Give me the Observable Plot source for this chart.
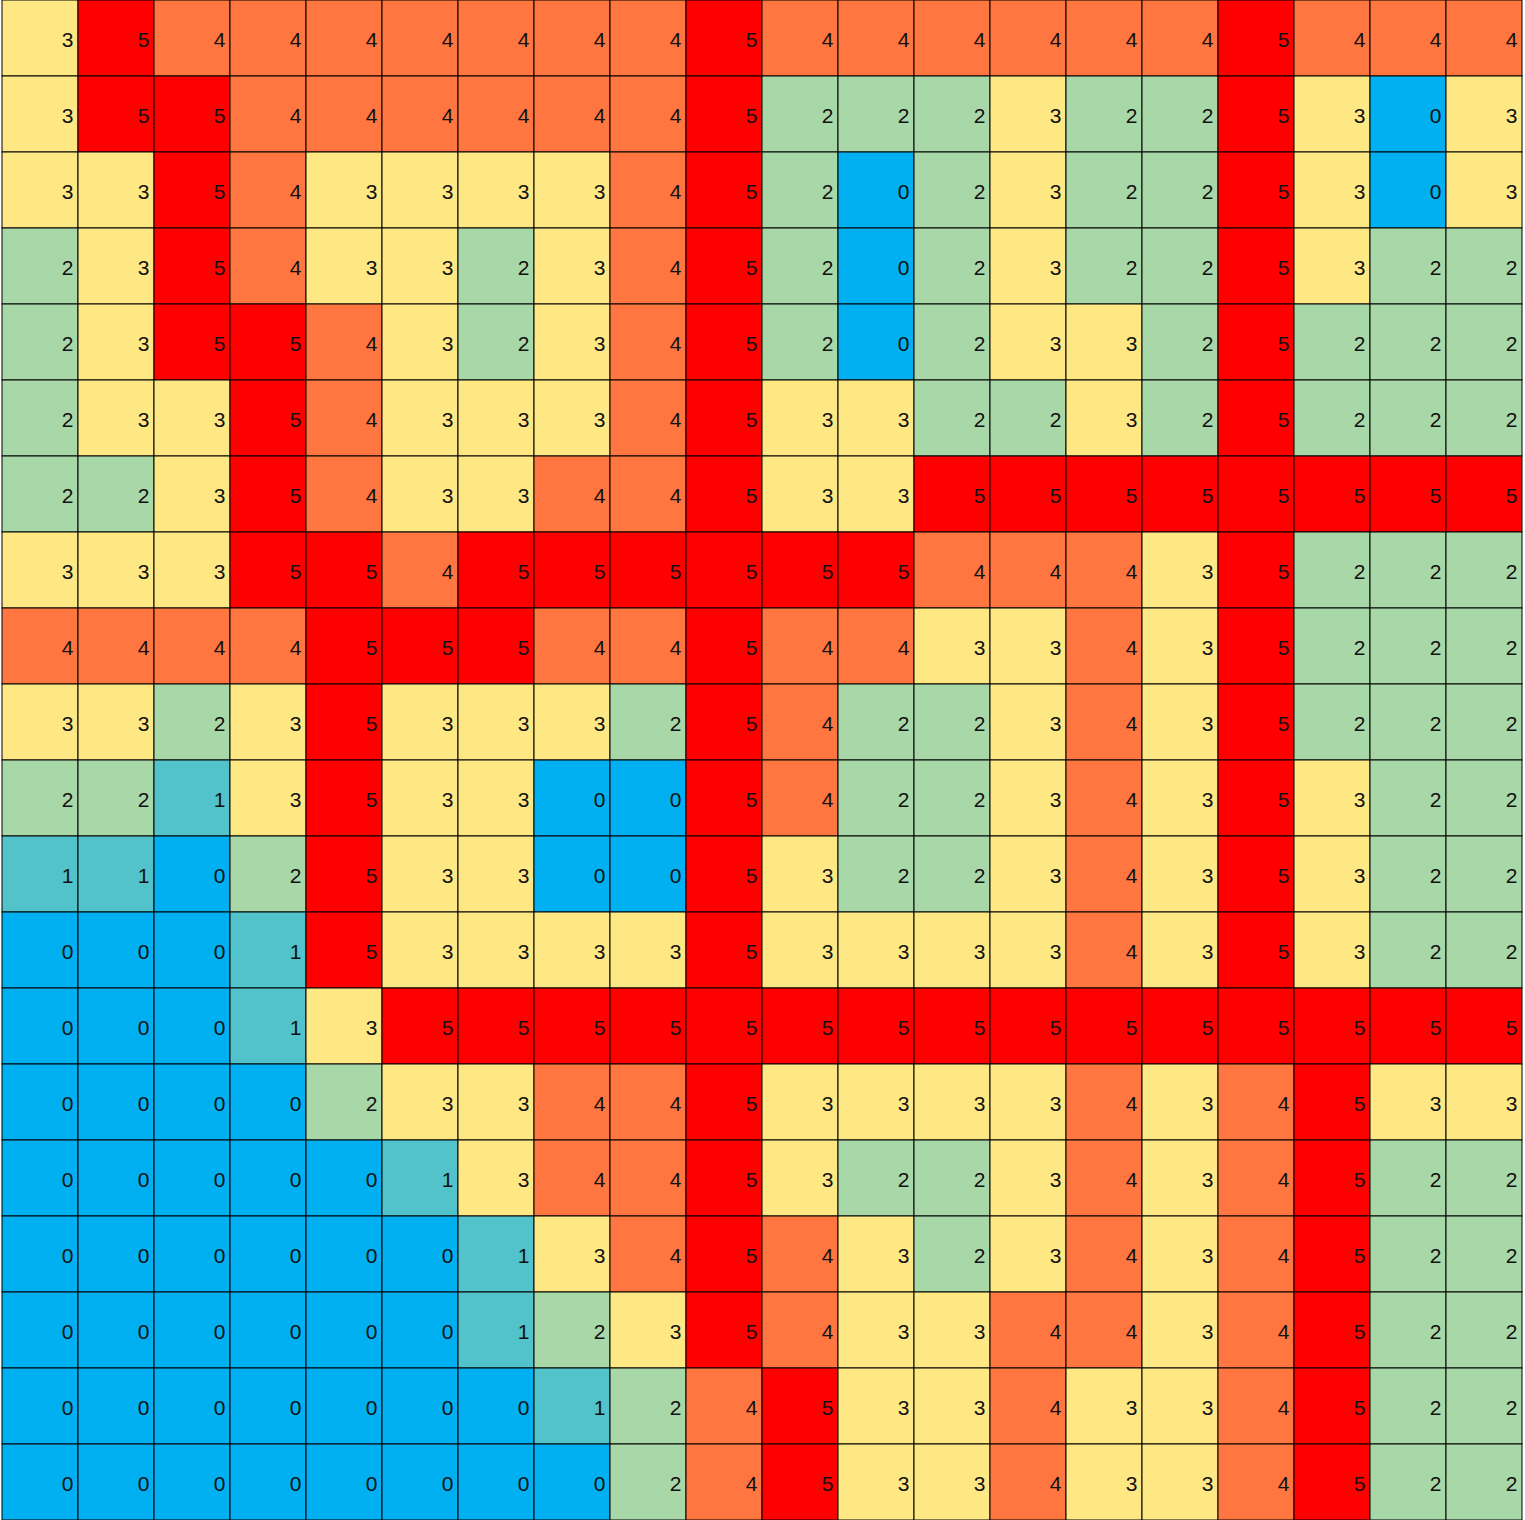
<!DOCTYPE html>
<html>
<head>
<meta charset="utf-8">
<script src="https://cdn.jsdelivr.net/npm/d3@7"></script>
<script src="https://cdn.jsdelivr.net/npm/@observablehq/plot@0.6"></script>
<style>
  html, body { margin: 0; padding: 0; background: #fff; }
  #chart svg { display: block; }
</style>
</head>
<body>
<div id="chart"></div>
<script>
const levels = [0, 1, 2, 3, 4, 5];
const levelColors = ["#00B0F0", "#52C2CB", "#A9D8A8", "#FEE884", "#FF7640", "#FF0000"];

const rows = [
  [3,5,4,4,4,4,4,4,4,5,4,4,4,4,4,4,5,4,4,4],
  [3,5,5,4,4,4,4,4,4,5,2,2,2,3,2,2,5,3,0,3],
  [3,3,5,4,3,3,3,3,4,5,2,0,2,3,2,2,5,3,0,3],
  [2,3,5,4,3,3,2,3,4,5,2,0,2,3,2,2,5,3,2,2],
  [2,3,5,5,4,3,2,3,4,5,2,0,2,3,3,2,5,2,2,2],
  [2,3,3,5,4,3,3,3,4,5,3,3,2,2,3,2,5,2,2,2],
  [2,2,3,5,4,3,3,4,4,5,3,3,5,5,5,5,5,5,5,5],
  [3,3,3,5,5,4,5,5,5,5,5,5,4,4,4,3,5,2,2,2],
  [4,4,4,4,5,5,5,4,4,5,4,4,3,3,4,3,5,2,2,2],
  [3,3,2,3,5,3,3,3,2,5,4,2,2,3,4,3,5,2,2,2],
  [2,2,1,3,5,3,3,0,0,5,4,2,2,3,4,3,5,3,2,2],
  [1,1,0,2,5,3,3,0,0,5,3,2,2,3,4,3,5,3,2,2],
  [0,0,0,1,5,3,3,3,3,5,3,3,3,3,4,3,5,3,2,2],
  [0,0,0,1,3,5,5,5,5,5,5,5,5,5,5,5,5,5,5,5],
  [0,0,0,0,2,3,3,4,4,5,3,3,3,3,4,3,4,5,3,3],
  [0,0,0,0,0,1,3,4,4,5,3,2,2,3,4,3,4,5,2,2],
  [0,0,0,0,0,0,1,3,4,5,4,3,2,3,4,3,4,5,2,2],
  [0,0,0,0,0,0,1,2,3,5,4,3,3,4,4,3,4,5,2,2],
  [0,0,0,0,0,0,0,1,2,4,5,3,3,4,3,3,4,5,2,2],
  [0,0,0,0,0,0,0,0,2,4,5,3,3,4,3,3,4,5,2,2]
];

const colIndex = d3.range(20);
const rowIndex = d3.range(20);

const cells = rows.flatMap((r, i) => r.map((v, j) => ({row: i, col: j, value: v})));

const chart = Plot.plot({
  width: 1525,
  height: 1520,
  marginLeft: 1,
  marginRight: 3,
  marginTop: 0,
  marginBottom: 0,
  x: {type: "band", domain: colIndex, padding: 0, axis: null},
  y: {type: "band", domain: rowIndex, padding: 0, axis: null},
  color: {type: "ordinal", domain: levels, range: levelColors},
  style: {fontFamily: "'Liberation Sans', Arial, sans-serif", background: "#fff"},
  marks: [
    Plot.cell(cells, {x: "col", y: "row", fill: "value", stroke: "#000", strokeWidth: 1}),
    Plot.text(cells, {x: "col", y: "row", text: d => String(d.value), textAnchor: "end", dx: 33, dy: 2, fontSize: 21, fill: "#111"})
  ]
});

document.getElementById("chart").appendChild(chart);
</script>
</body>
</html>
